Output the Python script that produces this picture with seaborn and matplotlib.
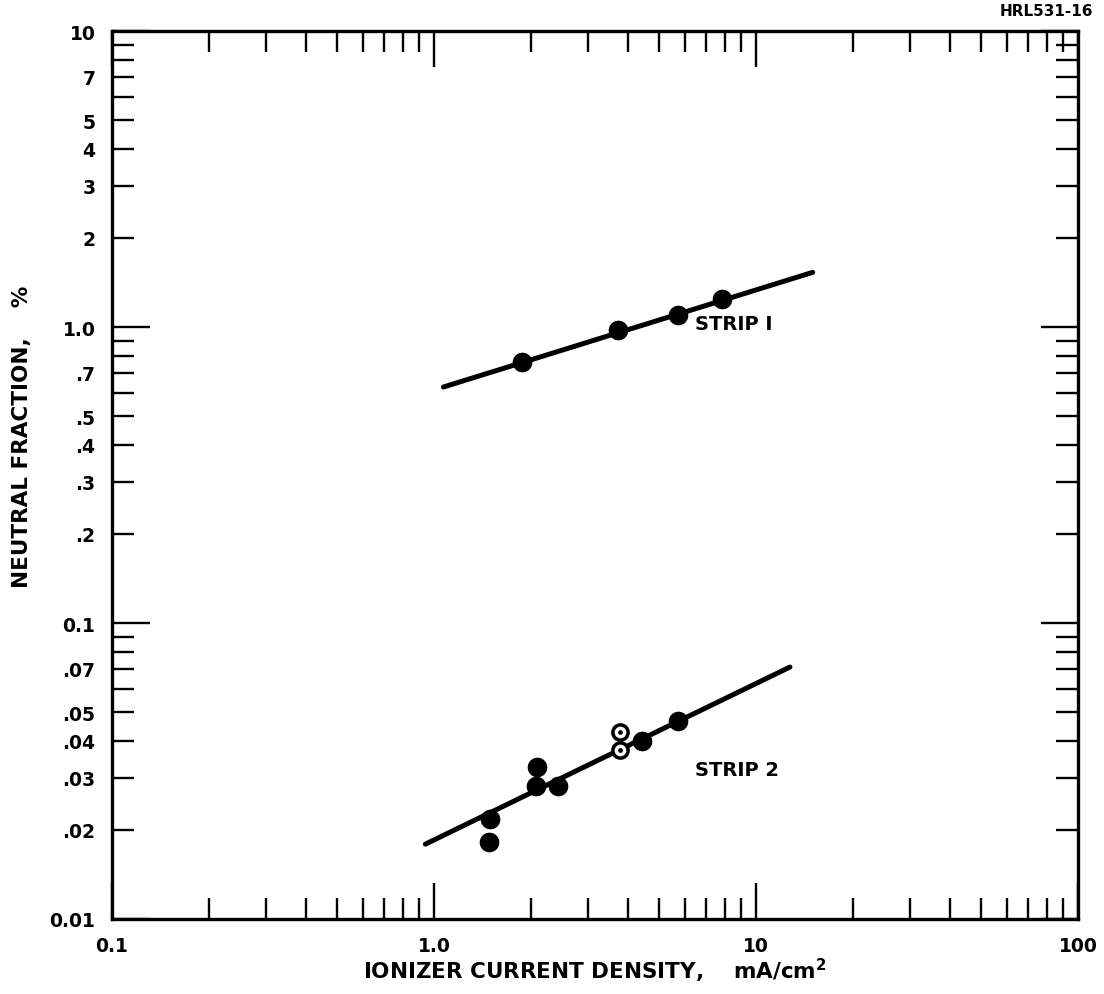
import numpy as np
import pandas as pd
import matplotlib
matplotlib.use("Agg")
import matplotlib.pyplot as plt
import seaborn as sns
from matplotlib.ticker import FixedLocator, FixedFormatter, NullFormatter

# Measured neutral fraction (%) versus ionizer current density (mA/cm^2)
strip1_x = [1.88, 3.73, 5.72, 7.84]
strip1_y = [0.76, 0.977, 1.10, 1.24]

strip2_x = [1.49, 1.48, 2.09, 2.07, 2.43, 4.43, 5.72]
strip2_y = [0.0218, 0.0182, 0.0326, 0.0281, 0.0281, 0.0399, 0.0467]

# Open (dotted) points of strip 2
strip2_open_x = [3.78, 3.78]
strip2_open_y = [0.0428, 0.0372]

# Fitted lines (end points)
fit1_x = [1.07, 15.0]
fit1_y = [0.627, 1.53]
fit2_x = [0.94, 12.75]
fit2_y = [0.0179, 0.071]

# Axis ticks and labels
x_major = [0.1, 1.0, 10, 100]
x_major_labels = ["0.1", "1.0", "10", "100"]
x_minor = [2, 3, 4, 5, 6, 7, 8, 9]

y_major = [0.01, 0.1, 1.0, 10]
y_major_labels = ["0.01", "0.1", "1.0", "10"]
y_minor = [0.02, 0.03, 0.04, 0.05, 0.06, 0.07, 0.08, 0.09,
           0.2, 0.3, 0.4, 0.5, 0.6, 0.7, 0.8, 0.9,
           2, 3, 4, 5, 6, 7, 8, 9]
y_minor_labels = [".02", ".03", ".04", ".05", "", ".07", "", "",
                  ".2", ".3", ".4", ".5", "", ".7", "", "",
                  "2", "3", "4", "5", "", "7", "", ""]

sns.set_theme(style="ticks")
plt.rcParams["font.family"] = ["DejaVu Sans"]
plt.rcParams["mathtext.default"] = "regular"
plt.rcParams["text.color"] = "black"

fig = plt.figure(figsize=(11.04, 9.95), dpi=100)
ax = fig.add_axes([112 / 1104, 75 / 995, 966 / 1104, 888 / 995])
ax.set_xscale("log")
ax.set_yscale("log")
ax.set_xlim(0.1, 100)
ax.set_ylim(0.01, 10)

lw_line = 3.6
sns.lineplot(x=fit1_x, y=fit1_y, ax=ax, color="black", lw=lw_line,
             solid_capstyle="round", estimator=None, sort=False)
sns.lineplot(x=fit2_x, y=fit2_y, ax=ax, color="black", lw=lw_line,
             solid_capstyle="round", estimator=None, sort=False)

sns.scatterplot(x=strip1_x, y=strip1_y, ax=ax, color="black", s=200,
                edgecolor="black", linewidth=0, zorder=5)
sns.scatterplot(x=strip2_x, y=strip2_y, ax=ax, color="black", s=200,
                edgecolor="black", linewidth=0, zorder=5)
sns.scatterplot(x=strip2_open_x, y=strip2_open_y, ax=ax, color="white", s=120,
                edgecolor="black", linewidth=2.5, zorder=6)
sns.scatterplot(x=strip2_open_x, y=strip2_open_y, ax=ax, color="black", s=12,
                edgecolor="black", linewidth=0, zorder=7)

ax.text(6.46, 1.03, "STRIP I", fontsize=14, fontweight="bold",
        ha="left", va="center", color="black")
ax.text(6.46, 0.0319, "STRIP 2", fontsize=14, fontweight="bold",
        ha="left", va="center", color="black")

# Decades get long labelled ticks; intermediate values short ticks
x_minor_all = [m * d for d in [0.1, 1, 10] for m in x_minor]
ax.xaxis.set_major_locator(FixedLocator(x_major))
ax.xaxis.set_major_formatter(FixedFormatter(x_major_labels))
ax.xaxis.set_minor_locator(FixedLocator(x_minor_all))
ax.xaxis.set_minor_formatter(NullFormatter())

ax.yaxis.set_major_locator(FixedLocator(y_major))
ax.yaxis.set_major_formatter(FixedFormatter(y_major_labels))
ax.yaxis.set_minor_locator(FixedLocator(y_minor))
ax.yaxis.set_minor_formatter(FixedFormatter(y_minor_labels))

ax.tick_params(axis="both", which="both", direction="in", top=True, right=True,
               color="black", width=1.7, labelsize=13.5, labelcolor="black")
ax.tick_params(axis="x", which="major", length=26, pad=12)
ax.tick_params(axis="x", which="minor", length=15, pad=12)
ax.tick_params(axis="y", which="major", length=27, pad=12)
ax.tick_params(axis="y", which="minor", length=16, pad=12)
for lab in ax.get_xticklabels(which="both") + ax.get_yticklabels(which="both"):
    lab.set_fontweight("bold")

for sp in ax.spines.values():
    sp.set_linewidth(2.4)
    sp.set_color("black")

ax.set_xlabel("IONIZER CURRENT DENSITY,    mA/cm$^{2}$", fontsize=15.5,
              fontweight="bold", color="black")
ax.set_ylabel("NEUTRAL FRACTION,    %", fontsize=15.5, fontweight="bold",
              color="black")
ax.xaxis.set_label_coords(0.5, -0.041)
ax.yaxis.set_label_coords(-0.083, 0.544)

fig.text(1093 / 1104, 1 - 12 / 995, "HRL531-16", fontsize=11,
         fontweight="bold", ha="right", va="center", color="black")

fig.savefig("out.png", dpi=100, facecolor="white")
